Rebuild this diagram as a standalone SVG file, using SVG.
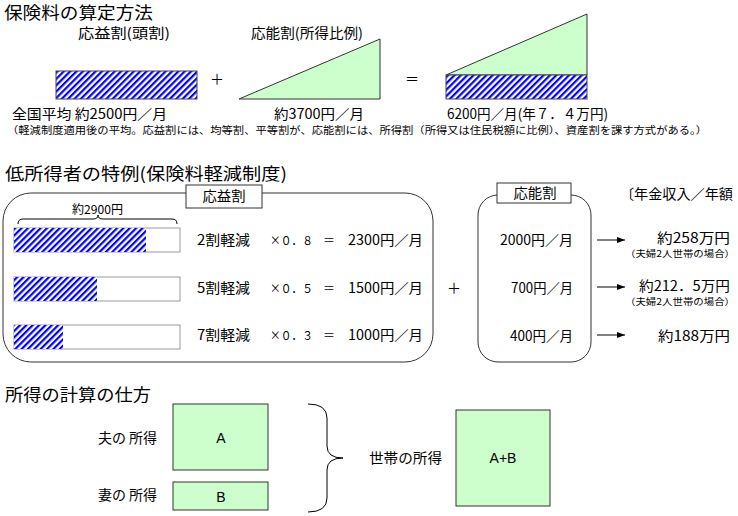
<svg xmlns="http://www.w3.org/2000/svg" width="738" height="516" viewBox="0 0 738 516">
<defs>
<pattern id="hatch" patternUnits="userSpaceOnUse" width="4.5" height="4.5" patternTransform="rotate(45)">
<rect x="0" y="0" width="4.5" height="4.5" fill="#fff"/>
<rect x="0" y="0" width="2.2" height="4.5" fill="#0000FF"/>
</pattern>
<marker id="arr" viewBox="0 0 8 6" refX="8" refY="3" markerWidth="8" markerHeight="6" markerUnits="userSpaceOnUse" orient="auto">
<path d="M0,0 L8,3 L0,6 Z" fill="#000"/>
</marker>
<style>
text{font-family:"Noto Sans CJK JP","Noto Sans CJK SC",sans-serif;fill:#000}
.t1{font-size:17px}
.t2{font-size:14px}
.t3{font-size:12px}
.sm{font-size:10px}
.xs{font-size:9px}
.lat{font-family:"Liberation Sans",Arial,sans-serif;font-size:14px}
.grn{fill:#CCFFCC;stroke:#333;stroke-width:1}
.hat{fill:url(#hatch);stroke:#444;stroke-width:1}
.bar{fill:#fff;stroke:#999;stroke-width:1}
.box{fill:none;stroke:#333;stroke-width:1}
.lbl{fill:#fff;stroke:#333;stroke-width:1}
.ln{stroke:#000;stroke-width:1;fill:none}
</style>
</defs>
<rect width="738" height="516" fill="#fff"/>

<!-- Section 1 -->
<text class="t1" x="4" y="19" textLength="149" lengthAdjust="spacingAndGlyphs">保険料の算定方法</text>
<g id="oueki-top">
<text class="t2" x="78" y="38" textLength="92" lengthAdjust="spacingAndGlyphs">応益割(頭割)</text>
<rect class="hat" x="56" y="71" width="141" height="28"/>
<text class="t2" x="12" y="119" textLength="155" lengthAdjust="spacingAndGlyphs">全国平均  約2500円／月</text>
</g>
<text class="t2" x="217" y="84" text-anchor="middle">＋</text>
<g id="ounou-top">
<text class="t2" x="251" y="38" textLength="112" lengthAdjust="spacingAndGlyphs">応能割(所得比例)</text>
<path class="grn" d="M239,99 L380,39 L380,99 Z"/>
<text class="t2" x="274" y="119" textLength="90" lengthAdjust="spacingAndGlyphs">約3700円／月</text>
</g>
<text class="t2" x="412" y="84" text-anchor="middle">＝</text>
<g id="total-top">
<path class="grn" d="M446,75 L587,14 L587,75 Z"/>
<rect class="hat" x="446" y="75" width="141" height="24"/>
<text class="t2" x="447" y="119" textLength="161" lengthAdjust="spacingAndGlyphs">6200円／月(年７．４万円)</text>
</g>
<text class="sm" x="7" y="134" textLength="700" lengthAdjust="spacingAndGlyphs">（軽減制度適用後の平均。応益割には、均等割、平等割が、応能割には、所得割（所得又は住民税額に比例）、資産割を課す方式がある。）</text>

<!-- Section 2 -->
<text class="t1" x="5" y="180" textLength="282" lengthAdjust="spacingAndGlyphs">低所得者の特例(保険料軽減制度)</text>
<g id="oueki-box">
<rect class="box" x="3" y="193" width="430" height="169" rx="28" ry="28"/>
<rect class="lbl" x="186" y="185" width="76" height="23"/>
<text class="t2" x="224" y="201" text-anchor="middle" textLength="43" lengthAdjust="spacingAndGlyphs">応益割</text>
<text class="t3" x="72" y="214" textLength="51" lengthAdjust="spacingAndGlyphs">約2900円</text>
<path class="ln" d="M18,224 Q18,219 23,219 L93,219 Q98,219 98,215 Q98,219 103,219 L172,219 Q177,219 177,224"/>
<rect class="bar" x="14" y="228" width="166" height="24"/>
<rect x="14" y="228" width="132" height="24" fill="url(#hatch)"/>
<rect class="bar" x="14" y="277" width="166" height="24"/>
<rect x="14" y="277" width="83" height="24" fill="url(#hatch)"/>
<rect class="bar" x="14" y="325" width="166" height="24"/>
<rect x="14" y="325" width="49" height="24" fill="url(#hatch)"/>
<text class="t2" x="197" y="245" textLength="53" lengthAdjust="spacingAndGlyphs">2割軽減</text>
<text class="t3" x="270" y="245" textLength="43" lengthAdjust="spacingAndGlyphs">×０．８</text>
<text class="t3" x="323" y="245">＝</text>
<text class="t2" x="348" y="245" textLength="75" lengthAdjust="spacingAndGlyphs">2300円／月</text>
<text class="t2" x="197" y="293" textLength="53" lengthAdjust="spacingAndGlyphs">5割軽減</text>
<text class="t3" x="270" y="293" textLength="43" lengthAdjust="spacingAndGlyphs">×０．５</text>
<text class="t3" x="323" y="293">＝</text>
<text class="t2" x="348" y="293" textLength="75" lengthAdjust="spacingAndGlyphs">1500円／月</text>
<text class="t2" x="197" y="340" textLength="53" lengthAdjust="spacingAndGlyphs">7割軽減</text>
<text class="t3" x="270" y="340" textLength="43" lengthAdjust="spacingAndGlyphs">×０．３</text>
<text class="t3" x="323" y="340">＝</text>
<text class="t2" x="348" y="340" textLength="75" lengthAdjust="spacingAndGlyphs">1000円／月</text>
</g>
<text class="t2" x="454" y="293" text-anchor="middle">＋</text>
<g id="ounou-box">
<rect class="box" x="478" y="195" width="113" height="167" rx="20" ry="20"/>
<rect class="lbl" x="497" y="183" width="74" height="20"/>
<text class="t2" x="535" y="198" text-anchor="middle" textLength="43" lengthAdjust="spacingAndGlyphs">応能割</text>
<text class="t2" x="500" y="245" textLength="73" lengthAdjust="spacingAndGlyphs">2000円／月</text>
<text class="t2" x="511" y="293" textLength="62" lengthAdjust="spacingAndGlyphs">700円／月</text>
<text class="t2" x="510" y="341" textLength="63" lengthAdjust="spacingAndGlyphs">400円／月</text>
</g>
<g id="nenkin">
<text class="t2" x="620" y="199" textLength="113" lengthAdjust="spacingAndGlyphs">〔年金収入／年額</text>
<text class="t2" x="657" y="243" textLength="73" lengthAdjust="spacingAndGlyphs">約258万円</text>
<text class="xs" x="625" y="257" textLength="110" lengthAdjust="spacingAndGlyphs">（夫婦2人世帯の場合）</text>
<text class="t2" x="639" y="291" textLength="91" lengthAdjust="spacingAndGlyphs">約212．5万円</text>
<text class="xs" x="625" y="305" textLength="110" lengthAdjust="spacingAndGlyphs">（夫婦2人世帯の場合）</text>
<text class="t2" x="658" y="341" textLength="72" lengthAdjust="spacingAndGlyphs">約188万円</text>
</g>

<!-- Section 3 -->
<text class="t1" x="5" y="401" textLength="146" lengthAdjust="spacingAndGlyphs">所得の計算の仕方</text>
<g id="otto">
<text class="t2" x="98" y="443" textLength="59" lengthAdjust="spacingAndGlyphs">夫の 所得</text>
<rect class="grn" x="173" y="404" width="95" height="66"/>
<text class="lat" x="221" y="443" text-anchor="middle">A</text>
</g>
<g id="tsuma">
<text class="t2" x="98" y="500" textLength="59" lengthAdjust="spacingAndGlyphs">妻の 所得</text>
<rect class="grn" x="173" y="482" width="95" height="28"/>
<text class="lat" x="221" y="502" text-anchor="middle">B</text>
</g>
<g id="setai">
<text class="t2" x="369" y="463" textLength="73" lengthAdjust="spacingAndGlyphs">世帯の所得</text>
<rect class="grn" x="456" y="410" width="94" height="96"/>
<text class="lat" x="503" y="463" text-anchor="middle">A+B</text>
</g>

<g id="connectors">
<line class="ln" x1="597" y1="240" x2="625" y2="240" marker-end="url(#arr)"/>
<line class="ln" x1="597" y1="287" x2="625" y2="287" marker-end="url(#arr)"/>
<line class="ln" x1="597" y1="335" x2="625" y2="335" marker-end="url(#arr)"/>
<path class="ln" d="M308,404 Q327,404 327,418 L327,446 Q327,458 343,458 Q327,458 327,470 L327,498 Q327,512 308,512"/>
</g>
</svg>
